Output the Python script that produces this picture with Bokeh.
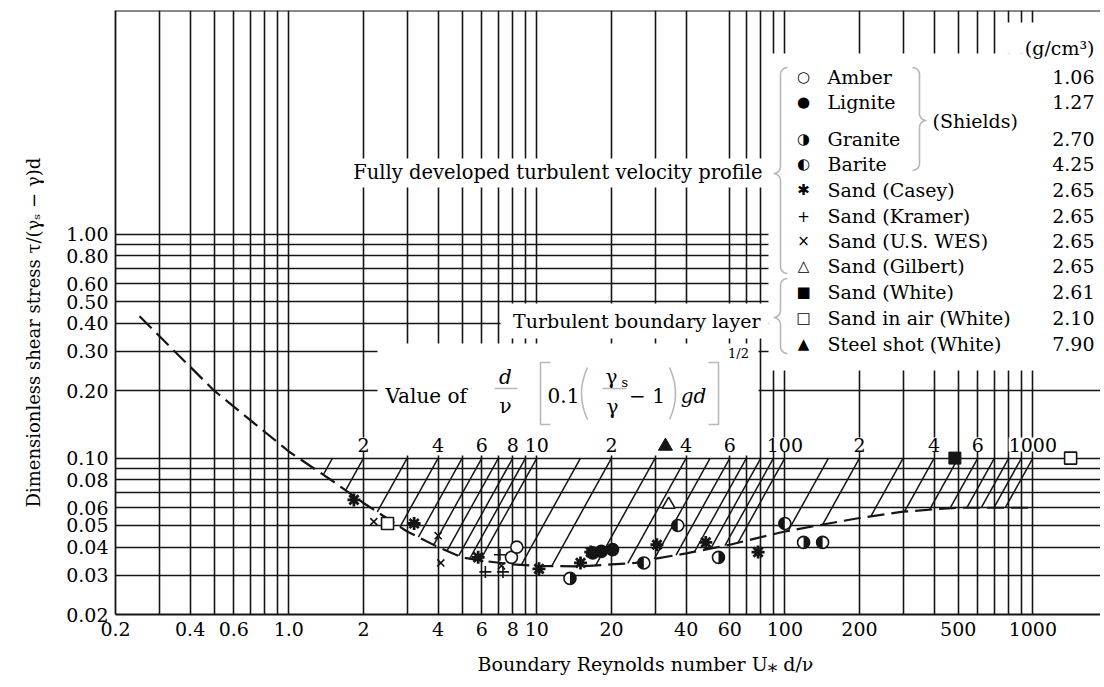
import numpy as np
from bokeh.plotting import figure
from bokeh.models import FixedTicker, Label, BoxAnnotation, PolyAnnotation, Span, Title
from bokeh.embed import file_html
from bokeh.resources import INLINE

# ---------------- data ----------------
x_tick_values = [0.2, 0.4, 0.6, 1, 2, 4, 6, 8, 10, 20, 40, 60, 100, 200, 500, 1000]
x_tick_labels = ["0.2", "0.4", "0.6", "1.0", "2", "4", "6", "8", "10", "20", "40", "60", "100", "200", "500", "1000"]
y_tick_values = [0.02, 0.03, 0.04, 0.05, 0.06, 0.08, 0.1, 0.2, 0.3, 0.4, 0.5, 0.6, 0.8, 1.0]
y_tick_labels = ["0.02", "0.03", "0.04", "0.05", "0.06", "0.08", "0.10", "0.20", "0.30", "0.40", "0.50", "0.60", "0.80", "1.00"]
x_grid_values = [0.3, 0.4, 0.5, 0.6, 0.7, 0.8, 0.9, 1, 2, 3, 4, 5, 6, 7, 8, 9, 10, 20, 30, 40,
                 60, 70, 80, 90, 100, 200, 300, 400, 500, 600, 700, 800, 900, 1000]
y_grid_values = [0.03, 0.04, 0.05, 0.06, 0.07, 0.08, 0.09, 0.1, 0.2, 0.3, 0.4, 0.5, 0.6, 0.7, 0.8, 0.9, 1.0]

# Shields curve (dashed)
shields_re = [0.25, 0.5, 1.0, 1.5, 2.0, 3.0, 4.0, 5.0, 6.0, 8.0, 10, 15, 20, 25, 30, 40, 60, 100, 150, 200, 300, 400, 500, 1000]
shields_tau = [0.43, 0.20, 0.107, 0.079, 0.063, 0.047, 0.040, 0.036, 0.0348, 0.0335, 0.033, 0.0328, 0.0335, 0.034,
               0.0355, 0.0375, 0.041, 0.047, 0.051, 0.054, 0.0576, 0.059, 0.060, 0.060]

# secondary parameter d/nu*sqrt(0.1(gs/g-1)gd): hatch lines reach tau = 0.1 at Re* = value
param_values = [1.5, 2, 3, 4, 5, 6, 7, 8, 9, 10, 15, 20, 30, 40, 50, 60, 70, 80, 90, 100,
                150, 200, 300, 400, 500, 600, 700, 800, 900, 1000]
param_label_values = [2, 4, 6, 8, 10, 20, 40, 60, 100, 200, 400, 600, 1000]
param_labels = ["2", "4", "6", "8", "10", "2", "4", "6", "100", "2", "4", "6", "1000"]

# experimental points (Re*, tau*)
amber_re, amber_tau = [7.9, 8.3], [0.036, 0.040]
lignite_re, lignite_tau = [16.8, 18.2, 20.2], [0.0377, 0.0383, 0.039]
granite_re, granite_tau = [13.6, 54, 119], [0.029, 0.036, 0.042]
barite_re, barite_tau = [27, 37, 100, 142], [0.034, 0.050, 0.051, 0.042]
casey_re = [1.83, 3.2, 5.8, 10.2, 15.0, 16.5, 30.5, 48, 78]
casey_tau = [0.065, 0.051, 0.036, 0.032, 0.034, 0.038, 0.041, 0.042, 0.038]
kramer_re, kramer_tau = [6.2, 7.1, 7.3], [0.031, 0.037, 0.031]
wes_re, wes_tau = [2.2, 4.0, 4.1, 7.2], [0.052, 0.045, 0.034, 0.033]
gilbert_re, gilbert_tau = [34], [0.062]
white_re, white_tau = [485], [0.100]
air_re, air_tau = [2.5, 1420], [0.051, 0.100]
steel_re, steel_tau = [33], [0.113]

legend_names = ["Amber", "Lignite", "Granite", "Barite", "Sand (Casey)", "Sand (Kramer)",
                "Sand (U.S. WES)", "Sand (Gilbert)", "Sand (White)", "Sand in air (White)", "Steel shot (White)"]
legend_density = ["1.06", "1.27", "2.70", "4.25", "2.65", "2.65", "2.65", "2.65", "2.61", "2.10", "7.90"]
legend_symbols = ["\u25CB", "\u25CF", "\u25D1", "\u25D0", "\u2731", "+", "\u00D7", "\u25B3", "\u25A0", "\u25A1", "\u25B2"]

# ---------------- figure ----------------
INK = "#151515"
SERIF = "DejaVu Serif"
FX0, FY0 = 115, 614   # page position of the frame's lower-left corner


def sx(px):
    return px - FX0


def sy(py):
    return FY0 - py


p = figure(width=1100, height=686, x_axis_type="log", y_axis_type="log",
           x_range=(0.2, 1874.3), y_range=(0.02, 10.0),
           output_backend="svg", toolbar_location=None,
           min_border_left=115, min_border_right=0, min_border_top=10, min_border_bottom=72)
p.outline_line_color = None
p.background_fill_color = "white"
p.border_fill_color = "white"

p.xaxis.ticker = FixedTicker(ticks=x_tick_values)
p.xaxis.major_label_overrides = {float(v): s for v, s in zip(x_tick_values, x_tick_labels)}
p.yaxis.ticker = FixedTicker(ticks=y_tick_values)
p.yaxis.major_label_overrides = {float(v): s for v, s in zip(y_tick_values, y_tick_labels)}
for ax in (p.xaxis[0], p.yaxis[0]):
    ax.major_tick_line_color = None
    ax.minor_tick_line_color = None
    ax.major_tick_in = 0
    ax.major_tick_out = 0
    ax.axis_line_color = INK
    ax.axis_line_width = 1.8
    ax.major_label_text_font = SERIF
    ax.major_label_text_font_size = "19px"
    ax.major_label_text_color = "black"
p.yaxis.major_label_standoff = 7
p.xaxis.major_label_standoff = 7

p.xgrid.ticker = FixedTicker(ticks=x_grid_values)
p.ygrid.ticker = FixedTicker(ticks=y_grid_values)
p.grid.grid_line_color = INK
p.grid.grid_line_width = 1.6
p.grid.grid_line_alpha = 1.0
p.grid.level = "image"

p.add_layout(Span(location=10.0, dimension="width", line_color=INK, line_width=2))

# axis titles
p.add_layout(Title(text="Boundary Reynolds number U\u204E d/\u03BD", align="left", offset=362,
                   standoff=24, text_font=SERIF, text_font_size="19px", text_font_style="normal",
                   text_color="black"), "below")
p.add_layout(Title(text="Dimensionless shear stress \u03C4/(\u03B3\u209B \u2212 \u03B3)d", align="left",
                   offset=107, standoff=39, text_font=SERIF, text_font_size="18px",
                   text_font_style="normal", text_color="black"), "left")


# white areas behind the annotations (grid interrupted)
def white_box(l, r, t, b):
    p.add_layout(BoxAnnotation(left=sx(l), right=sx(r), top=sy(t), bottom=sy(b),
                               left_units="screen", right_units="screen",
                               top_units="screen", bottom_units="screen",
                               fill_color="white", fill_alpha=1.0, line_color=None,
                               level="underlay"))

white_box(346, 768, 158, 187)     # "Fully developed ..." label
white_box(768, 1110, 53, 370)     # legend
white_box(998, 1110, 22, 53)      # (g/cm3)
white_box(500, 768, 303, 338)     # "Turbulent boundary layer"
white_box(377, 758, 343, 455)     # formula + top scale labels

# ---------------- hatch lines of the parameter ----------------
lc_re = np.log10(shields_re)
lc_tau = np.log10(shields_tau)
hx0, hy0, hx1, hy1 = [], [], [], []
for P in param_values:
    lp = np.log10(P)
    f = lambda lr: np.interp(lr, lc_re, lc_tau) - (np.log10(0.1) + 2.0 * (lr - lp))
    lo, hi = lc_re[0], lp
    for _ in range(60):
        mid = 0.5 * (lo + hi)
        if f(mid) > 0:
            lo = mid
        else:
            hi = mid
    hx0.append(10 ** hi)
    hy0.append(10 ** np.interp(hi, lc_re, lc_tau))
    hx1.append(P)
    hy1.append(0.1)
p.segment(x0=hx0, y0=hy0, x1=hx1, y1=hy1, line_color=INK, line_width=1.5)

# Shields curve
p.line(shields_re, shields_tau, line_color=INK, line_width=2.2, line_dash="17 7")

# ---------------- data points ----------------
MS = 12
p.scatter(amber_re, amber_tau, marker="circle", size=MS, fill_color="white", line_color=INK, line_width=1.6)
p.scatter(lignite_re, lignite_tau, marker="circle", size=MS, fill_color=INK, line_color=INK, line_width=1.6)
p.scatter(granite_re, granite_tau, marker="circle", size=MS, fill_color="white", line_color=INK, line_width=1.6)
p.wedge(granite_re, granite_tau, radius=MS / 2, radius_units="screen", start_angle=-np.pi / 2,
        end_angle=np.pi / 2, fill_color=INK, line_color=None)
p.scatter(barite_re, barite_tau, marker="circle", size=MS, fill_color="white", line_color=INK, line_width=1.6)
p.wedge(barite_re, barite_tau, radius=MS / 2, radius_units="screen", start_angle=np.pi / 2,
        end_angle=3 * np.pi / 2, fill_color=INK, line_color=None)
p.scatter(casey_re, casey_tau, marker="asterisk", size=13, line_color=INK, line_width=2.8)
p.scatter(kramer_re, kramer_tau, marker="cross", size=12, line_color=INK, line_width=1.6)
p.scatter(wes_re, wes_tau, marker="x", size=10, line_color=INK, line_width=1.6)
p.scatter(gilbert_re, gilbert_tau, marker="triangle", size=13, fill_color="white", line_color=INK, line_width=1.6)
p.scatter(white_re, white_tau, marker="square", size=12, fill_color=INK, line_color=INK)
p.scatter(air_re, air_tau, marker="square", size=12, fill_color="white", line_color=INK, line_width=1.6)
p.scatter(steel_re, steel_tau, marker="triangle", size=14, fill_color=INK, line_color=INK)


# ---------------- text helpers ----------------
def txt(px, py, text, size=19, align="left", style="normal", font=SERIF, angle=0.0, bg=None):
    p.add_layout(Label(x=sx(px), y=sy(py), x_units="screen", y_units="screen", text=text,
                       text_font=font, text_font_size=f"{size}px", text_font_style=style,
                       text_align=align, text_baseline="middle", text_color="black",
                       angle=angle, background_fill_color=bg))


def poly(pts, width=1.6):
    xs = [sx(a) for a, _ in pts]
    ys = [sy(b) for _, b in pts]
    xs = xs + xs[::-1]
    ys = ys + ys[::-1]
    p.add_layout(PolyAnnotation(xs=xs, ys=ys, xs_units="screen", ys_units="screen",
                                fill_alpha=0.0, line_color=INK, line_width=width))


def arc(cx, cy, r, t0, t1, n=8):
    t = np.radians(np.linspace(t0, t1, n))
    return list(zip(cx + r * np.cos(t), cy + r * np.sin(t)))


def brace(x, y_top, y_mid, y_bot, r=7, right=False):
    pts = []
    pts += arc(x + r, y_top + r, r, -90, -180)
    pts += arc(x - r, y_mid - r, r, 0, 90)
    pts += arc(x - r, y_mid + r, r, -90, 0)
    pts += arc(x + r, y_bot - r, r, 180, 90)
    if right:
        pts = [(2 * x - a, b) for a, b in pts]
    poly(pts)


# ---------------- labels ----------------
txt(762, 172, "Fully developed turbulent velocity profile", size=19.5, align="right")
txt(760, 320, "Turbulent boundary layer", align="right")
brace(780, 67, 173, 273)
brace(780, 278, 317, 353)
brace(919, 67, 120, 170, right=True)
txt(932, 120, "(Shields)")
txt(1094, 47, "(g/cm\u00B3)", align="right")

legend_y = [76, 101, 138, 163, 189, 215, 240, 265, 291, 317, 343]
for yy, sym, name, dens in zip(legend_y, legend_symbols, legend_names, legend_density):
    txt(803, yy, sym, size=15, align="center", font="DejaVu Sans")
    txt(827, yy, name)
    txt(1094, yy, dens, align="right")

# formula "Value of d/v [0.1(gs/g - 1)gd]^1/2"
txt(385, 395, "Value of", size=20)
txt(505, 376, "d", size=20, align="center", style="italic")
poly([(494, 388), (517, 388)], width=1.4)
txt(505, 405, "\u03BD", size=20, align="center")
poly([(550, 362), (540, 362), (540, 424), (550, 424)])
txt(563, 395, "0.1", size=20, align="center")
s = np.linspace(-1, 1, 12)
poly(list(zip(581 + 6 * s ** 2, 393 + 26 * s)))
txt(611, 376, "\u03B3", size=20, align="center")
txt(621, 382, "s", size=13, align="left")
poly([(602, 388), (626, 388)], width=1.4)
txt(612, 406, "\u03B3", size=20, align="center")
txt(637, 395, "\u2212", size=20, align="center")
txt(658, 395, "1", size=20, align="center")
poly(list(zip(675 - 6 * s ** 2, 393 + 26 * s)))
txt(693, 395, "gd", size=20, align="center", style="italic")
poly([(708, 362), (718, 362), (718, 424), (708, 424)])
txt(738, 353, "1/2", size=13, align="center")

# top scale labels of the parameter
for v, s_lab in zip(param_label_values, param_labels):
    p.add_layout(Label(x=v, y=sy(444), x_units="data", y_units="screen", text=s_lab,
                       text_font=SERIF, text_font_size="19px", text_align="center",
                       text_baseline="middle", text_color="black", background_fill_color="white"))

open("out.html", "w").write(file_html(p, INLINE))
